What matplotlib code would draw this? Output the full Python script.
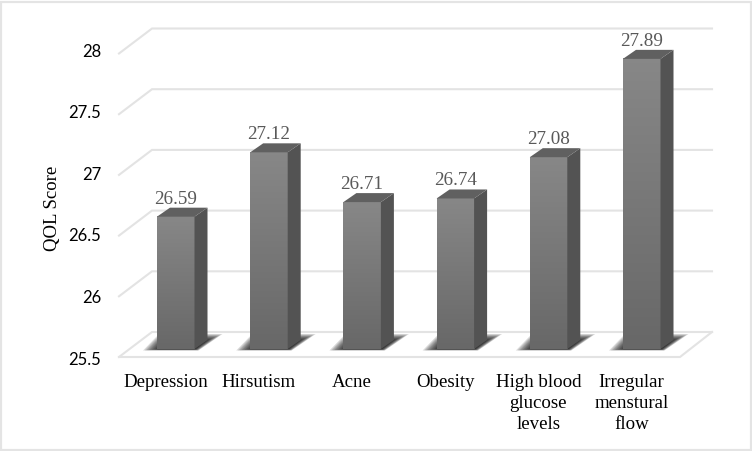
import numpy as np
import matplotlib
matplotlib.use('Agg')
import matplotlib.pyplot as plt
from matplotlib.colors import LinearSegmentedColormap
from matplotlib.patches import Polygon, Rectangle

# Dados
categorias = ['Depression', 'Hirsutism', 'Acne', 'Obesity',
              'High blood\nglucose\nlevels', 'Irregular\nmenstural\nflow']
valores = [26.59, 27.12, 26.71, 26.74, 27.08, 27.89]
ticks_y = [25.5, 26, 26.5, 27, 27.5, 28]
rotulos_y = ['25.5', '26', '26.5', '27', '27.5', '28']

L, A = 752, 451
PX_X = 93.2   # pixels por categoria
PX_Y = 121.4  # pixels por unidade de QOL
BASE = 25.5
Y_BASE = 349  # pixel da base das barras
X0 = 165.5    # pixel do centro do rotulo da primeira categoria
dx = lambda p: p / PX_X
dy = lambda p: p / PX_Y

fig = plt.figure(figsize=(L / 100, A / 100), dpi=100)

# eixo principal, em pixels alinhado com a figura
Y_EIXO = 362
ax = fig.add_axes([0, 1 - Y_EIXO / A, 1, Y_EIXO / A])
xlim = (-X0 / PX_X, (L - X0) / PX_X)
ylim = (BASE - (Y_EIXO - Y_BASE) / PX_Y, BASE + Y_BASE / PX_Y)


def x_px(p):
    return (p - X0) / PX_X


# grade em perspectiva
COR_GRADE = '#e3e3e3'
for v in ticks_y:
    ax.plot([x_px(119), x_px(152), x_px(712)],
            [v - dy(8), v + dy(17), v + dy(17)],
            color=COR_GRADE, lw=1.5, solid_joinstyle='miter', zorder=1)
ax.plot([x_px(119), x_px(680), x_px(712)],
        [BASE - dy(8), BASE - dy(8), BASE + dy(17)],
        color=COR_GRADE, lw=1.5, zorder=1)

grad_v = np.linspace(0, 1, 64).reshape(-1, 1)
cmap_frente = LinearSegmentedColormap.from_list('frente', ['#686868', '#878787'])

for i, v in enumerate(valores):
    esq = i - dx(8.5)
    dir_ = i + dx(29)

    # sombra no chao, camadas para ficar difusa
    for k in range(10):
        m = k * 1.7
        a0, a1 = BASE - dy(1.5 - k * 0.15), BASE + dy(15 - k * 0.7)
        ax.add_patch(Polygon([(esq - dx(14 - m), a0), (dir_ + dx(4 - m * 0.2), a0),
                              (dir_ + dx(28 - m), a1), (esq + dx(2 + m * 0.4), a1)],
                             fc='black', ec='none', alpha=0.14, zorder=2))

    # face frontal com degrade
    ax.imshow(grad_v, extent=(esq, dir_, BASE, v), origin='lower', aspect='auto',
              cmap=cmap_frente, zorder=4)
    # lateral e topo
    ax.add_patch(Polygon([(dir_, BASE), (dir_ + dx(13), BASE + dy(9)),
                          (dir_ + dx(13), v + dy(9)), (dir_, v)],
                         fc='#535353', ec='none', zorder=4))
    ax.add_patch(Polygon([(esq, v), (esq + dx(13), v + dy(9)),
                          (dir_ + dx(13), v + dy(9)), (dir_, v)],
                         fc='#606060', ec='none', zorder=4))

    # rotulo do valor
    ax.text(i + dx(10), v + dy(17.5), f'{v:.2f}', ha='center', va='center',
            family='Liberation Serif', fontsize=13.8, color='#595959', zorder=5)

ax.set_xlim(*xlim)
ax.set_ylim(*ylim)
ax.set_xticks(range(len(categorias)))
ax.set_xticklabels(categorias, family='Liberation Serif', fontsize=13.6,
                   color='black', linespacing=1.31)
ax.tick_params(axis='x', length=0, pad=8.5)
ax.set_yticks([])
for s in ax.spines.values():
    s.set_visible(False)
ax.patch.set_alpha(0)

# eixo dos valores, com a escala dos rotulos
ax_y = fig.add_axes([101 / L, 1 - 358 / A, 1 / L, (358 - 50) / A])
ax_y.set_ylim(25.5, 28)
ax_y.set_yticks(ticks_y)
ax_y.set_yticklabels(rotulos_y, family='Lato', fontsize=12, color='black')
ax_y.tick_params(axis='y', length=0, pad=0)
ax_y.set_xticks([])
for s in ax_y.spines.values():
    s.set_visible(False)
ax_y.patch.set_alpha(0)

fig.text(53 / L, 1 - 208 / A, 'QOL Score', rotation=90, ha='center', va='center',
         family='Liberation Serif', fontsize=13.5)

# moldura da imagem
fig.add_artist(Rectangle((1.5 / L, 1.5 / A), (L - 3) / L, (A - 3) / A,
                         transform=fig.transFigure, fc='none', ec='#e4e4e4', lw=1.6))

fig.savefig('out.png', dpi=100)
